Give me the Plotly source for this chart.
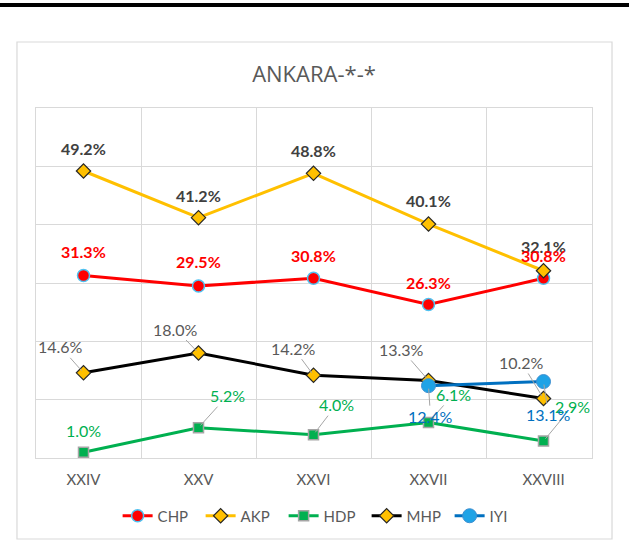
import plotly.graph_objects as go

# ---- data ----
categories = ["XXIV", "XXV", "XXVI", "XXVII", "XXVIII"]
chp = [31.3, 29.5, 30.8, 26.3, 30.8]
akp = [49.2, 41.2, 48.8, 40.1, 32.1]
hdp = [1.0, 5.2, 4.0, 6.1, 2.9]
mhp = [14.6, 18.0, 14.2, 13.3, 10.2]
iyi = [None, None, None, 12.4, 13.1]
title_text = "ANKARA-*-*"

# ---- label offsets (pixels, styling only) ----
akp_shift = [23, 22, 23, 24, 24]
chp_shift = [24, 24, 23, 22, 23]
mhp_off = [(-23, -26), (-23, -24), (-20, -27), (-27, -31), (-22, -36)]
hdp_off = [(0, -22), (29, -32), (23, -30), (25, -28), (29, -35)]
iyi_off = [None, None, None, (2, 31), (5, 33)]

FONT = "Lato, sans-serif"
GRID = "#d9d9d9"
TXT = "#595959"
LBL = 16

fig = go.Figure()
fig.add_trace(go.Scatter(x=categories, y=chp, name="CHP", mode="lines+markers",
                         line=dict(color="#FF0000", width=3),
                         marker=dict(symbol="circle", size=12, color="#FF0000",
                                     line=dict(color="#4FC1F0", width=1.5))))
fig.add_trace(go.Scatter(x=categories, y=akp, name="AKP", mode="lines+markers",
                         line=dict(color="#FFC000", width=3),
                         marker=dict(symbol="diamond", size=11, color="#FFC000",
                                     line=dict(color="#262626", width=1.2))))
fig.add_trace(go.Scatter(x=categories, y=hdp, name="HDP", mode="lines+markers",
                         line=dict(color="#00B050", width=3),
                         marker=dict(symbol="square", size=10, color="#00B050",
                                     line=dict(color="#A5A5A5", width=1.5))))
fig.add_trace(go.Scatter(x=categories, y=mhp, name="MHP", mode="lines+markers",
                         line=dict(color="#000000", width=3),
                         marker=dict(symbol="diamond", size=11, color="#FFC000",
                                     line=dict(color="#262626", width=1.2))))
fig.add_trace(go.Scatter(x=categories, y=iyi, name="IYI", mode="lines+markers",
                         line=dict(color="#0070C0", width=3),
                         marker=dict(symbol="circle", size=14, color="#1FA3E6",
                                     line=dict(color="#3D8FD0", width=1))))

ann = []
for c, v, s in zip(categories, akp, akp_shift):
    ann.append(dict(x=c, y=v, text=f"{v:.1f}%", showarrow=False, yshift=s,
                    font=dict(family=FONT, size=LBL, color="#404040", weight="bold")))
for c, v, s in zip(categories, chp, chp_shift):
    ann.append(dict(x=c, y=v, text=f"{v:.1f}%", showarrow=False, yshift=s,
                    font=dict(family=FONT, size=LBL, color="#FF0000", weight="bold")))
for c, v, (ax, ay) in zip(categories, mhp, mhp_off):
    ann.append(dict(x=c, y=v, text=f"{v:.1f}%", showarrow=True, arrowhead=0,
                    arrowcolor="#A6A6A6", arrowwidth=1, ax=ax, ay=ay, standoff=3,
                    font=dict(family=FONT, size=LBL, color=TXT)))
for i, (c, v, (ax, ay)) in enumerate(zip(categories, hdp, hdp_off)):
    if i == 0:
        ann.append(dict(x=c, y=v, text=f"{v:.1f}%", showarrow=False, yshift=-ay,
                        font=dict(family=FONT, size=LBL, color="#00B050")))
    else:
        ann.append(dict(x=c, y=v, text=f"{v:.1f}%", showarrow=True, arrowhead=0,
                        arrowcolor="#A6A6A6", arrowwidth=1, ax=ax, ay=ay, standoff=3,
                        font=dict(family=FONT, size=LBL, color="#00B050")))
for c, v, off in zip(categories, iyi, iyi_off):
    if v is None:
        continue
    ax, ay = off
    ann.append(dict(x=c, y=v, text=f"{v:.1f}%", showarrow=True, arrowhead=0,
                    arrowcolor="#A6A6A6", arrowwidth=1, ax=ax, ay=ay, standoff=3,
                    font=dict(family=FONT, size=LBL, color="#0070C0")))

shapes = [
    # outer chart border
    dict(type="rect", xref="paper", yref="paper", x0=-0.0342, x1=1.036,
         y0=-0.2314, y1=1.1886, line=dict(color=GRID, width=1.2), layer="below"),
    # top black rule
    dict(type="line", xref="paper", yref="paper", x0=-0.07, x1=1.07,
         y0=1.2943, y1=1.2943, line=dict(color="#000000", width=4)),
]

fig.update_layout(
    width=629, height=541,
    margin=dict(l=36, r=37, t=108, b=83, autoexpand=False),
    paper_bgcolor="white", plot_bgcolor="white",
    font=dict(family=FONT, color=TXT),
    title=dict(text=title_text, x=0.5, xanchor="center", xref="paper",
               y=1 - 74 / 541, yanchor="middle", yref="container",
               font=dict(family="Open Sans, sans-serif", size=22, color=TXT)),
    showlegend=True,
    legend=dict(orientation="h", x=0.52, xanchor="center", xref="paper",
                y=1 - 516 / 541, yanchor="middle", yref="container",
                font=dict(family=FONT, size=15, color=TXT), itemwidth=30,
                entrywidth=38, entrywidthmode="pixels"),
    annotations=ann,
    shapes=shapes,
)
fig.update_xaxes(type="category", tickson="boundaries", showgrid=True, gridcolor=GRID,
                 gridwidth=1, showline=True, mirror=True, linecolor=GRID, linewidth=1,
                 ticks="", ticklabelstandoff=8,
                 tickfont=dict(family=FONT, size=15, color=TXT), zeroline=False)
fig.update_yaxes(range=[0, 60], dtick=10, showgrid=True, gridcolor=GRID, gridwidth=1,
                 showticklabels=False, showline=True, mirror=True, linecolor=GRID,
                 linewidth=1, zeroline=False, ticks="")

fig.write_html("out.html", config={"displayModeBar": False},
               post_script="document.body.style.margin='0';document.body.style.overflow='hidden';")
